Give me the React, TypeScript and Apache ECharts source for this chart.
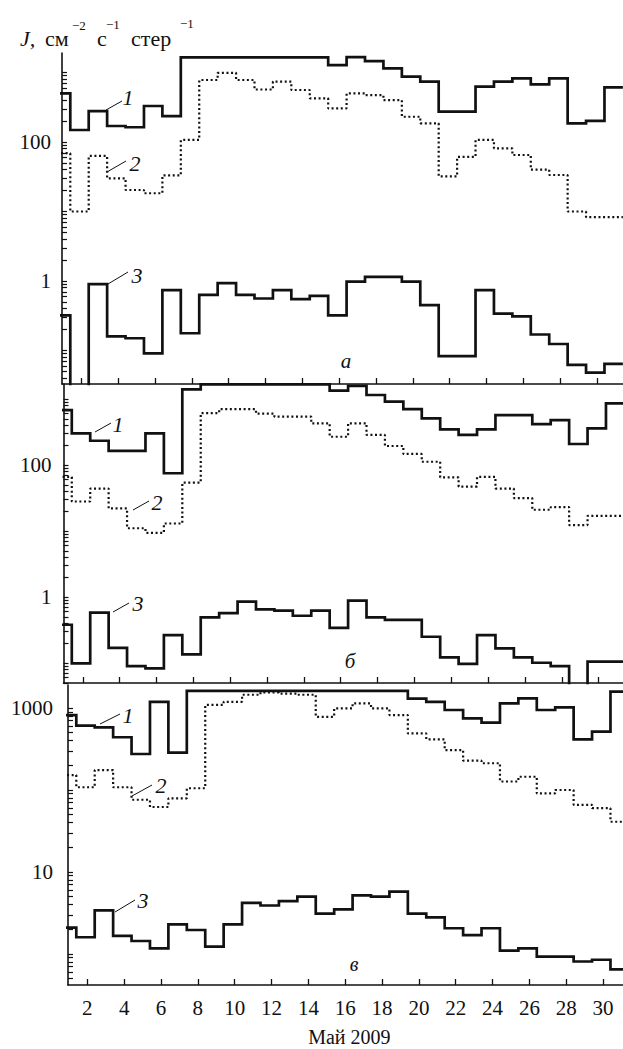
import React, { useEffect, useRef } from 'react';
import * as echarts from 'echarts';

// ---- data (one value per daily bin, bins k = 0..30) ----
const DAY_TICKS = [2, 4, 6, 8, 10, 12, 14, 16, 18, 20, 22, 24, 26, 28, 30];
const X_LABEL = 'Май 2009';

// panel а
const A1 = [500, 149, 279, 170, 163, 330, 236, 1650, 1650, 1650, 1650, 1650, 1650, 1650, 1650, 1280, 1660, 1460, 1150, 870, 740, 273, 273, 625, 740, 823, 676, 823, 185, 202, 610];
const A2 = [69, 10, 63, 30, 20.4, 18.3, 33, 107, 780, 990, 780, 570, 740, 560, 425, 305, 500, 474, 400, 231, 186, 32, 61, 107, 81, 65, 40, 33.5, 10, 8.3, 8.3];
const A3 = [0.32, 0.02, 0.9, 0.16, 0.15, 0.091, 0.74, 0.177, 0.63, 0.93, 0.63, 0.56, 0.74, 0.55, 0.61, 0.32, 0.98, 1.15, 1.15, 0.98, 0.45, 0.083, 0.083, 0.74, 0.34, 0.31, 0.17, 0.124, 0.062, 0.048, 0.064];
// panel б
const B1 = [680, 302, 233, 164, 164, 302, 75, 1400, 1660, 1660, 1660, 1660, 1660, 1660, 1660, 1340, 1580, 1150, 910, 700, 510, 347, 285, 347, 570, 570, 417, 480, 208, 360, 860];
const B2 = [66, 28, 44, 22, 11, 9.4, 13, 54, 610, 700, 700, 600, 540, 540, 428, 268, 428, 285, 194, 147, 112, 65, 47, 66, 44, 31.5, 21, 23, 12.3, 17, 17];
const B3 = [0.38, 0.099, 0.58, 0.17, 0.09, 0.083, 0.265, 0.135, 0.49, 0.57, 0.85, 0.65, 0.62, 0.52, 0.62, 0.34, 0.88, 0.49, 0.45, 0.45, 0.25, 0.122, 0.097, 0.265, 0.167, 0.122, 0.101, 0.09, 0.02, 0.105, 0.105];
// panel в
const C1 = [820, 610, 580, 440, 275, 1190, 285, 1620, 1620, 1620, 1620, 1620, 1620, 1620, 1620, 1620, 1620, 1620, 1620, 1300, 1190, 946, 748, 662, 1140, 1310, 946, 1020, 415, 515, 1580];
const C2 = [152, 108, 175, 108, 76, 62, 79, 105, 1090, 1190, 1450, 1550, 1500, 1450, 780, 990, 1140, 990, 820, 490, 415, 307, 228, 212, 127, 145, 91, 100, 66, 60, 41];
const C3 = [2.1, 1.6, 3.4, 1.66, 1.44, 1.17, 2.3, 1.96, 1.23, 2.3, 4.2, 3.9, 4.4, 5.0, 3.1, 3.5, 5.2, 5.0, 5.75, 3.1, 2.8, 2.06, 1.7, 2.06, 1.1, 1.17, 0.93, 0.93, 0.81, 0.85, 0.65];

const BIN_OFFSET = 0.4;
const X_MIN = 0.95;
const X_MAX = 31.5;
const PX_PER_DAY = 18.42;
const FONT = '"Liberation Serif", "DejaVu Serif", serif';
const INK = '#111';

function stepData(vals: number[]) {
  const pts: number[][] = vals.map((v, k) => [k + BIN_OFFSET, v]);
  pts.push([vals.length + BIN_OFFSET, vals[vals.length - 1]]);
  return pts;
}

function logTicks(min: number, max: number) {
  const out: number[] = [];
  for (let e = -3; e <= 4; e++) {
    for (let m = 1; m <= 9; m++) {
      const v = parseFloat((m * Math.pow(10, e)).toPrecision(6));
      if (v >= min && v <= max) out.push(v);
    }
  }
  return out;
}

const PANELS = [
  { left: 62, top: 53, height: 331, yMin: 0.03296, yMax: 1909, labels: [1, 100], margin: 11, s: [A1, A2, A3] },
  { left: 63.5, top: 384, height: 299, yMin: 0.0498, yMax: 1687, labels: [1, 100], margin: 12, s: [B1, B2, B3] },
  { left: 68, top: 685, height: 300, yMin: 0.4185, yMax: 1908, labels: [10, 1000], margin: 15, s: [C1, C2, C3] },
];

function txt(text: string, x: number, y: number, size: number, italic = false, align = 'center') {
  return {
    type: 'text',
    x,
    y,
    style: {
      text,
      fill: INK,
      font: `${italic ? 'italic ' : ''}${size}px ${FONT}`,
      textAlign: align,
      textVerticalAlign: 'middle',
    },
  };
}

function leader(x1: number, y1: number, x2: number, y2: number) {
  return { type: 'line', shape: { x1, y1, x2, y2 }, style: { stroke: INK, lineWidth: 1 } };
}

export default function App() {
  const ref = useRef<HTMLDivElement>(null);

  useEffect(() => {
    if (!ref.current) return;
    const chart = echarts.init(ref.current, null, { renderer: 'svg' });
    const width = (X_MAX - X_MIN) * PX_PER_DAY;

    const series: any[] = [];
    PANELS.forEach((p, i) => {
      p.s.forEach((vals, j) => {
        series.push({
          type: 'line',
          xAxisIndex: i,
          yAxisIndex: i,
          step: 'end',
          symbol: 'none',
          data: stepData(vals),
          lineStyle: j === 1
            ? { color: INK, width: 2.2, type: [2, 2.6], cap: 'butt' }
            : { color: INK, width: 2.7, join: 'miter' },
          silent: true,
        });
      });
    });

    const graphic: any[] = [
      // y-axis title
      txt('J,', 20, 38, 22, true, 'left'),
      txt('см', 45, 38, 22, false, 'left'),
      txt('−2', 72, 25, 13, false, 'left'),
      txt('с', 97, 38, 22, false, 'left'),
      txt('−1', 106, 24, 13, false, 'left'),
      txt('стер', 131, 38, 22, false, 'left'),
      txt('−1', 180, 23, 13, false, 'left'),
      // panel а
      txt('1', 128, 97, 22, true), leader(106, 110, 122, 101),
      txt('2', 135, 163, 22, true), leader(107, 172, 126, 161),
      txt('3', 137, 275, 22, true), leader(108, 284, 128, 272),
      txt('а', 346, 361, 21, true),
      // panel б
      txt('1', 118, 424, 22, true), leader(95, 432, 111, 423),
      txt('2', 157, 502, 22, true), leader(133, 510, 149, 501),
      txt('3', 138, 603, 22, true), leader(113, 612, 129, 603),
      txt('б', 350, 661, 21, true),
      // panel в
      txt('1', 128, 715, 22, true), leader(100, 724, 120, 714),
      txt('2', 161, 785, 22, true), leader(132, 796, 152, 785),
      txt('3', 143, 900, 22, true), leader(115, 912, 135, 900),
      txt('в', 354, 964, 20, true),
    ];

    chart.setOption({
      animation: false,
      backgroundColor: '#fff',
      grid: PANELS.map((p) => ({
        left: p.left,
        top: p.top,
        width,
        height: p.height,
        containLabel: false,
        outerBoundsMode: 'none',
      })),
      xAxis: PANELS.map((p, i) => ({
        type: 'value',
        gridIndex: i,
        min: X_MIN,
        max: X_MAX,
        axisLine: { show: true, onZero: false, lineStyle: { color: INK, width: 1.6 } },
        axisTick: { show: true, inside: true, length: 6, customValues: DAY_TICKS, lineStyle: { color: INK, width: 1.3 } },
        axisLabel: {
          show: i === 2,
          customValues: DAY_TICKS,
          color: INK,
          fontFamily: FONT,
          fontSize: 21,
          margin: 12,
        },
        splitLine: { show: false },
        name: i === 2 ? X_LABEL : '',
        nameLocation: 'middle',
        nameGap: 42,
        nameTextStyle: { color: INK, fontFamily: FONT, fontSize: 20 },
      })),
      yAxis: PANELS.map((p, i) => ({
        type: 'log',
        logBase: 10,
        gridIndex: i,
        min: p.yMin,
        max: p.yMax,
        axisLine: { show: true, lineStyle: { color: INK, width: 1.6 } },
        axisTick: { show: true, inside: true, length: 5, customValues: logTicks(p.yMin, p.yMax), lineStyle: { color: INK, width: 1.2 } },
        minorTick: { show: false },
        axisLabel: {
          customValues: p.labels,
          color: INK,
          fontFamily: FONT,
          fontSize: 21,
          margin: p.margin,
          formatter: (v: number) => String(Math.round(v)),
        },
        splitLine: { show: false },
      })),
      series,
      graphic,
    });

    return () => chart.dispose();
  }, []);

  return (
    <div
      ref={ref}
      style={{ position: 'absolute', left: 0, top: 0, width: 623, height: 1049, background: '#fff' }}
    />
  );
}
